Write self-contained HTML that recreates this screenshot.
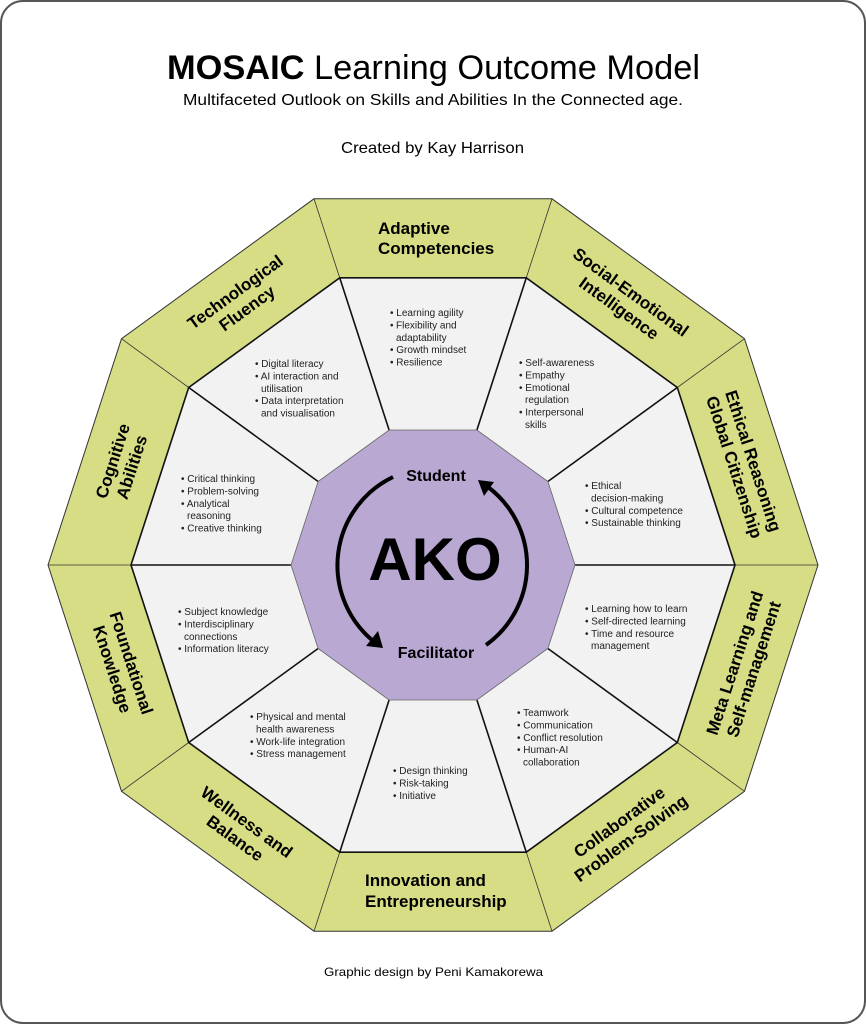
<!DOCTYPE html>
<html><head><meta charset="utf-8"><style>
html,body{margin:0;padding:0;background:#fff;}
svg{display:block;}
text{font-family:"Liberation Sans",sans-serif;}
.lbl{font-weight:bold;font-size:17px;fill:#000;}
.it{font-size:10px;fill:#222;}
</style></head><body>
<svg width="866" height="1024" viewBox="0 0 866 1024" xmlns="http://www.w3.org/2000/svg">
<rect x="1" y="1" width="864" height="1022" rx="22" ry="22" fill="#fff" stroke="#555" stroke-width="2"/>
<text x="167" y="79" font-size="34" textLength="533" lengthAdjust="spacingAndGlyphs"><tspan font-weight="bold">MOSAIC</tspan> Learning Outcome Model</text>
<text x="183" y="105" font-size="16" textLength="500" lengthAdjust="spacingAndGlyphs">Multifaceted Outlook on Skills and Abilities In the Connected age.</text>
<text x="341" y="153" font-size="16" textLength="183" lengthAdjust="spacingAndGlyphs">Created by Kay Harrison</text>
<text x="324" y="976" font-size="12" textLength="219" lengthAdjust="spacingAndGlyphs">Graphic design by Peni Kamakorewa</text>

<!-- outer green decagon -->
<polygon points="818,565 744.5,338.7 552,198.8 314,198.8 121.5,338.7 48,565 121.5,791.3 314,931.2 552,931.2 744.5,791.3" fill="#d6dd85" stroke="#333" stroke-width="1"/>
<!-- green separators -->
<g stroke="#333" stroke-width="0.8">
<line x1="818" y1="565" x2="735" y2="565"/>
<line x1="744.5" y1="338.7" x2="677.3" y2="387.5"/>
<line x1="552" y1="198.8" x2="526.3" y2="277.8"/>
<line x1="314" y1="198.8" x2="339.7" y2="277.8"/>
<line x1="121.5" y1="338.7" x2="188.7" y2="387.5"/>
<line x1="48" y1="565" x2="131" y2="565"/>
<line x1="121.5" y1="791.3" x2="188.7" y2="742.5"/>
<line x1="314" y1="931.2" x2="339.7" y2="852.2"/>
<line x1="552" y1="931.2" x2="526.3" y2="852.2"/>
<line x1="744.5" y1="791.3" x2="677.3" y2="742.5"/>
</g>
<!-- inner grey -->
<polygon points="735,565 677.3,387.5 526.3,277.8 339.7,277.8 188.7,387.5 131,565 188.7,742.5 339.7,852.2 526.3,852.2 677.3,742.5" fill="#f2f2f2" stroke="#111" stroke-width="1.6"/>
<g stroke="#111" stroke-width="1.6">
<line x1="575" y1="565" x2="735" y2="565"/>
<line x1="547.9" y1="481.5" x2="677.3" y2="387.5"/>
<line x1="476.9" y1="430" x2="526.3" y2="277.8"/>
<line x1="389.1" y1="430" x2="339.7" y2="277.8"/>
<line x1="318.1" y1="481.5" x2="188.7" y2="387.5"/>
<line x1="291" y1="565" x2="131" y2="565"/>
<line x1="318.1" y1="648.5" x2="188.7" y2="742.5"/>
<line x1="389.1" y1="700" x2="339.7" y2="852.2"/>
<line x1="476.9" y1="700" x2="526.3" y2="852.2"/>
<line x1="547.9" y1="648.5" x2="677.3" y2="742.5"/>
</g>
<!-- purple -->
<polygon points="575,565 547.9,481.5 476.9,430 389.1,430 318.1,481.5 291,565 318.1,648.5 389.1,700 476.9,700 547.9,648.5" fill="#b8a8d2" stroke="#666" stroke-width="0.8"/>

<!-- center -->
<text x="436" y="481" text-anchor="middle" font-size="16" font-weight="bold">Student</text>
<text x="436" y="658" text-anchor="middle" font-size="16" font-weight="bold">Facilitator</text>
<text x="435" y="580" text-anchor="middle" font-size="60" font-weight="bold">AKO</text>
<path d="M393,477 A98,98 0 0 0 372,640" fill="none" stroke="#000" stroke-width="4"/>
<polygon points="383,648 366,646 378,631" fill="#000"/>
<path d="M486,645 A98,98 0 0 0 488,487" fill="none" stroke="#000" stroke-width="4"/>
<polygon points="478,480 494,482 484,496" fill="#000"/>

<!-- green labels -->
<text class="lbl" x="378" y="234">Adaptive</text>
<text class="lbl" x="378" y="254">Competencies</text>
<text class="lbl" x="365" y="886">Innovation and</text>
<text class="lbl" x="365" y="907">Entrepreneurship</text>
<g class="lbl" text-anchor="middle">
<text transform="translate(625,300) rotate(36)"><tspan x="0" y="-4">Social-Emotional</tspan><tspan x="0" y="16">Intelligence</tspan></text>
<text transform="translate(744,464) rotate(72)"><tspan x="0" y="-4">Ethical Reasoning</tspan><tspan x="0" y="16">Global Citizenship</tspan></text>
<text transform="translate(744,666) rotate(-72)"><tspan x="0" y="-4">Meta Learning and</tspan><tspan x="0" y="16">Self-management</tspan></text>
<text transform="translate(625,830) rotate(-36)"><tspan x="0" y="-4">Collaborative</tspan><tspan x="0" y="16">Problem-Solving</tspan></text>
<text transform="translate(241,830) rotate(36)"><tspan x="0" y="-4">Wellness and</tspan><tspan x="0" y="16">Balance</tspan></text>
<text transform="translate(122,666) rotate(72)"><tspan x="0" y="-4">Foundational</tspan><tspan x="0" y="16">Knowledge</tspan></text>
<text transform="translate(122,464) rotate(-72)"><tspan x="0" y="-4">Cognitive</tspan><tspan x="0" y="16">Abilities</tspan></text>
<text transform="translate(241,300) rotate(-36)"><tspan x="0" y="-4">Technological</tspan><tspan x="0" y="16">Fluency</tspan></text>
</g>

<!-- item lists -->
<g class="it">
<text x="390" y="316">• Learning agility</text>
<text x="396" y="328.4">Flexibility and</text><text x="390" y="328.4">•</text>
<text x="396" y="340.8">adaptability</text>
<text x="390" y="353.2">• Growth mindset</text>
<text x="390" y="365.6">• Resilience</text>

<text x="255" y="367">• Digital literacy</text>
<text x="255" y="379.4">• AI interaction and</text>
<text x="261" y="391.8">utilisation</text>
<text x="255" y="404.2">• Data interpretation</text>
<text x="261" y="416.6">and visualisation</text>

<text x="519" y="366">• Self-awareness</text>
<text x="519" y="378.4">• Empathy</text>
<text x="519" y="390.8">• Emotional</text>
<text x="525" y="403.2">regulation</text>
<text x="519" y="415.6">• Interpersonal</text>
<text x="525" y="428">skills</text>

<text x="181" y="482">• Critical thinking</text>
<text x="181" y="494.4">• Problem-solving</text>
<text x="181" y="506.8">• Analytical</text>
<text x="187" y="519.2">reasoning</text>
<text x="181" y="531.6">• Creative thinking</text>

<text x="585" y="489">• Ethical</text>
<text x="591" y="501.4">decision-making</text>
<text x="585" y="513.8">• Cultural competence</text>
<text x="585" y="526.2">• Sustainable thinking</text>

<text x="178" y="615">• Subject knowledge</text>
<text x="178" y="627.4">• Interdisciplinary</text>
<text x="184" y="639.8">connections</text>
<text x="178" y="652.2">• Information literacy</text>

<text x="585" y="612">• Learning how to learn</text>
<text x="585" y="624.4">• Self-directed learning</text>
<text x="585" y="636.8">• Time and resource</text>
<text x="591" y="649.2">management</text>

<text x="250" y="720">• Physical and mental</text>
<text x="256" y="732.4">health awareness</text>
<text x="250" y="744.8">• Work-life integration</text>
<text x="250" y="757.2">• Stress management</text>

<text x="517" y="716">• Teamwork</text>
<text x="517" y="728.4">• Communication</text>
<text x="517" y="740.8">• Conflict resolution</text>
<text x="517" y="753.2">• Human-AI</text>
<text x="523" y="765.6">collaboration</text>

<text x="393" y="774">• Design thinking</text>
<text x="393" y="786.4">• Risk-taking</text>
<text x="393" y="798.8">• Initiative</text>
</g>
</svg>
</body></html>
